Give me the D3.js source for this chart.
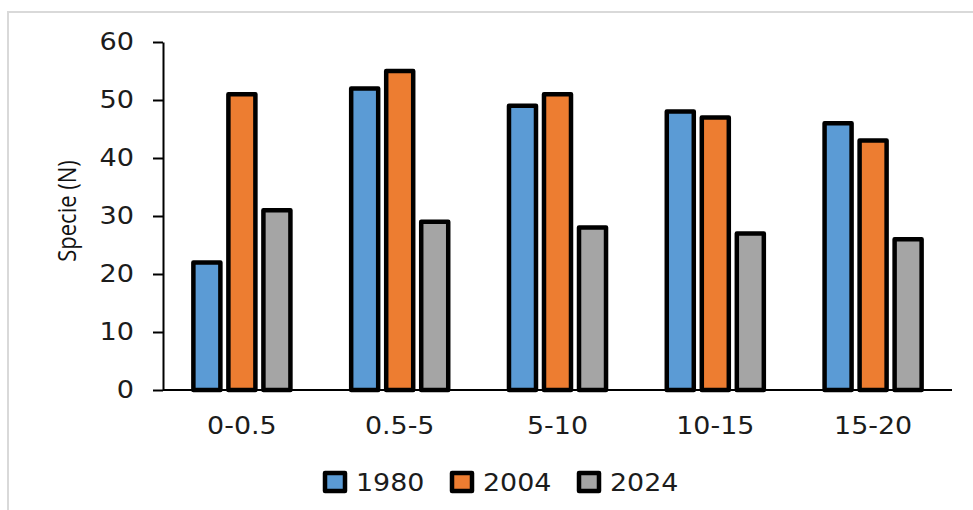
<!DOCTYPE html>
<html>
<head>
<meta charset="utf-8">
<script src="https://cdn.jsdelivr.net/npm/d3@7"></script>
<style>
  html, body { margin: 0; padding: 0; background: #fff; }
  svg { display: block; }
  text { fill: #1c1c1c; }
</style>
</head>
<body>
<svg id="chart" width="973" height="510"></svg>
<script>
// Species count per depth class, three survey years
const categories = ["0-0.5", "0.5-5", "5-10", "10-15", "15-20"];
const seriesNames = ["1980", "2004", "2024"];
const values1980 = [22, 52, 49, 48, 46];
const values2004 = [51, 55, 51, 47, 43];
const values2024 = [31, 29, 28, 27, 26];
const yTicks = [0, 10, 20, 30, 40, 50, 60];
const colors = ["#5B9BD5", "#ED7D31", "#A5A5A5"];
const yLabel = "Specie (N)";

const seriesValues = [values1980, values2004, values2024];
const rows = categories.map((c, i) => ({
  cat: c,
  vals: seriesNames.map((s, j) => ({ key: s, value: seriesValues[j][i] }))
}));

const svg = d3.select("#chart");
const plotLeft = 163, plotRight = 952, plotTop = 42, plotBottom = 390;
const FONT = "'DejaVu Sans', Verdana, sans-serif";

// widen glyphs slightly, keeping the text anchor
function widen(sel, k) {
  sel.each(function () {
    const w = this.getComputedTextLength();
    d3.select(this).attr("textLength", w * k).attr("lengthAdjust", "spacingAndGlyphs");
  });
}

// outer frame
svg.append("rect")
  .attr("x", 8).attr("y", 12).attr("width", 1100).attr("height", 700)
  .attr("fill", "none").attr("stroke", "#d9d9d9").attr("stroke-width", 2);

const x0 = d3.scaleBand().domain(categories).range([plotLeft, plotRight]).paddingInner(0.385).paddingOuter(0.1925);
const x1 = d3.scaleBand().domain(seriesNames).range([0, x0.bandwidth()]).paddingInner(0.2286);
const y = d3.scaleLinear().domain([0, 60]).range([plotBottom, plotTop]);
const color = d3.scaleOrdinal().domain(seriesNames).range(colors);

// bars
const groups = svg.append("g").selectAll("g").data(rows).join("g")
  .attr("transform", d => `translate(${x0(d.cat)},0)`);
groups.selectAll("rect").data(d => d.vals).join("rect")
  .attr("x", d => x1(d.key))
  .attr("y", d => y(d.value))
  .attr("width", x1.bandwidth())
  .attr("height", d => y(0) - y(d.value))
  .attr("fill", d => color(d.key))
  .attr("stroke", "#000")
  .attr("stroke-width", 4.5)
  .attr("stroke-linejoin", "round");

// y axis
const yAxis = svg.append("g")
  .attr("transform", `translate(${plotLeft},0)`)
  .call(d3.axisLeft(y).tickValues(yTicks).tickSize(10).tickSizeOuter(0).tickPadding(19));
yAxis.select(".domain").attr("stroke", "#000").attr("stroke-width", 2);
yAxis.selectAll(".tick line").attr("stroke", "#000").attr("stroke-width", 2);
yAxis.selectAll(".tick text")
  .attr("font-family", FONT).attr("font-size", 24).style("fill", "#1c1c1c")
  .call(widen, 1.13);

// x axis
const xAxis = svg.append("g")
  .attr("transform", `translate(0,${plotBottom})`)
  .call(d3.axisBottom(x0).tickSize(0).tickSizeOuter(0).tickPadding(27));
xAxis.select(".domain").attr("stroke", "#000").attr("stroke-width", 2)
  .attr("d", `M${plotLeft},0H${plotRight}`);
xAxis.selectAll(".tick text")
  .attr("font-family", FONT).attr("font-size", 24).style("fill", "#1c1c1c")
  .call(widen, 1.12);

// y axis title (glyphs widened across the reading direction)
svg.append("text")
  .attr("transform", `translate(76,211) scale(1.18,1) rotate(-90)`)
  .attr("text-anchor", "middle")
  .attr("font-family", "'Open Sans', sans-serif")
  .attr("font-size", 22)
  .style("fill", "#111")
  .text(yLabel);

// legend
const legend = svg.append("g").attr("transform", "translate(325,473)");
const items = legend.selectAll("g").data(seriesNames).join("g")
  .attr("transform", (d, i) => `translate(${i * 127},0)`);
items.append("rect")
  .attr("x", 0).attr("y", 0).attr("width", 20).attr("height", 18)
  .attr("fill", d => color(d))
  .attr("stroke", "#000").attr("stroke-width", 4.5).attr("stroke-linejoin", "round");
items.append("text")
  .attr("x", 31).attr("y", 18)
  .attr("font-family", FONT).attr("font-size", 24)
  .text(d => d)
  .call(widen, 1.12);
</script>
</body>
</html>
